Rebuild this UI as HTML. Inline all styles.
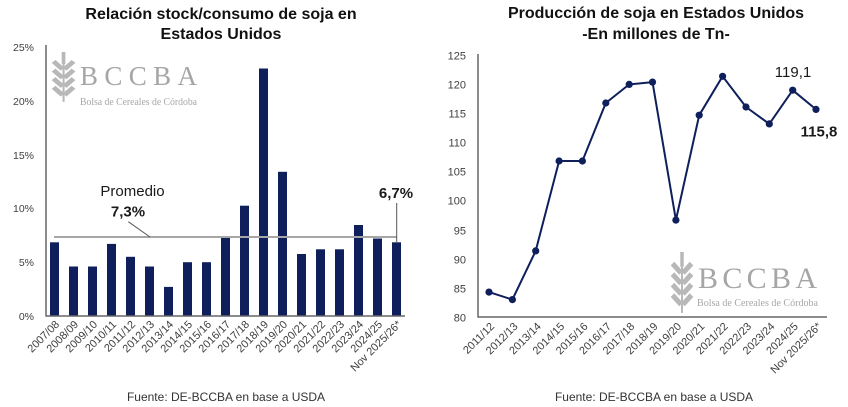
<!DOCTYPE html>
<html><head><meta charset="utf-8"><style>
html,body{margin:0;padding:0;background:#fff;}
svg{display:block;}
text{font-family:"Liberation Sans",sans-serif;}
</style></head><body>
<svg width="848" height="407" viewBox="0 0 848 407" xmlns="http://www.w3.org/2000/svg">
<defs>
<g id="wheat" stroke="#b8b8b8" stroke-width="5" fill="none" stroke-linecap="butt">
<line x1="11" y1="0" x2="11" y2="14" stroke-width="3.5"/>
<line x1="10" y1="20" x2="1.5" y2="11"/>
<line x1="12" y1="20" x2="20.5" y2="11"/>
<line x1="10" y1="30" x2="1.5" y2="21"/>
<line x1="12" y1="30" x2="20.5" y2="21"/>
<line x1="10" y1="40" x2="1.5" y2="31"/>
<line x1="12" y1="40" x2="20.5" y2="31"/>
<line x1="10" y1="50" x2="1.5" y2="41"/>
<line x1="12" y1="50" x2="20.5" y2="41"/>
<line x1="11" y1="14" x2="11" y2="58" stroke-width="2"/>
</g>
</defs>

<!-- LEFT CHART -->
<text x="221" y="19" text-anchor="middle" font-size="16" font-weight="bold" fill="#111">Relación stock/consumo de soja en</text>
<text x="221" y="39" text-anchor="middle" font-size="16" font-weight="bold" fill="#111">Estados Unidos</text>

<!-- logo left -->
<use href="#wheat" transform="translate(52,52) scale(1.05,0.86)"/>
<text x="80" y="85" font-size="27" fill="#a6a6a6" textLength="117" lengthAdjust="spacing" style="font-family:'Liberation Serif',serif">BCCBA</text>
<text x="80" y="105" font-size="10" fill="#a6a6a6" textLength="117" lengthAdjust="spacingAndGlyphs" style="font-family:'Liberation Serif',serif">Bolsa de Cereales de Córdoba</text>

<!-- y labels -->
<g font-size="10.5" fill="#404040" text-anchor="end">
<text x="34" y="51">25%</text>
<text x="34" y="105">20%</text>
<text x="34" y="159">15%</text>
<text x="34" y="212">10%</text>
<text x="34" y="266">5%</text>
<text x="34" y="320">0%</text>
</g>

<!-- bars -->
<g fill="#0e1f5b">
<rect x="50" y="242.3" width="9" height="73.7"/>
<rect x="69" y="266.5" width="9" height="49.5"/>
<rect x="88" y="266.5" width="9" height="49.5"/>
<rect x="107" y="243.9" width="9" height="72.1"/>
<rect x="126" y="256.8" width="9" height="59.2"/>
<rect x="145" y="266.5" width="9" height="49.5"/>
<rect x="164" y="286.9" width="9" height="29.1"/>
<rect x="183" y="262.2" width="9" height="53.8"/>
<rect x="202" y="262.2" width="9" height="53.8"/>
<rect x="221" y="237.5" width="9" height="78.5"/>
<rect x="240" y="205.7" width="9" height="110.3"/>
<rect x="259" y="68.5" width="9" height="247.5"/>
<rect x="278" y="171.8" width="9" height="144.2"/>
<rect x="297" y="254" width="9" height="62"/>
<rect x="316" y="249.3" width="9" height="66.7"/>
<rect x="335" y="249.3" width="9" height="66.7"/>
<rect x="354" y="225" width="9" height="91"/>
<rect x="373" y="238.5" width="9" height="77.5"/>
<rect x="392" y="242.3" width="9" height="73.7"/>
</g>

<!-- average line -->
<line x1="54" y1="237" x2="397" y2="237" stroke="#a6a6a6" stroke-width="2"/>
<line x1="128.3" y1="221.7" x2="150" y2="237" stroke="#555" stroke-width="1"/>
<line x1="396.7" y1="203" x2="396.7" y2="242" stroke="#555" stroke-width="1"/>

<!-- axes -->
<line x1="46" y1="45" x2="46" y2="316.5" stroke="#666" stroke-width="1.5"/>
<line x1="45.5" y1="316" x2="405" y2="316" stroke="#666" stroke-width="1.5"/>

<text x="132.5" y="196" text-anchor="middle" font-size="15" fill="#1a1a1a">Promedio</text>
<text x="128" y="216.5" text-anchor="middle" font-size="15" font-weight="bold" fill="#1a1a1a">7,3%</text>
<text x="396" y="198" text-anchor="middle" font-size="15" font-weight="bold" fill="#1a1a1a">6,7%</text>

<!-- x labels left -->
<g font-size="11" fill="#404040" text-anchor="end">
<text transform="translate(60,325) rotate(-45)">2007/08</text>
<text transform="translate(79,325) rotate(-45)">2008/09</text>
<text transform="translate(98,325) rotate(-45)">2009/10</text>
<text transform="translate(117,325) rotate(-45)">2010/11</text>
<text transform="translate(136,325) rotate(-45)">2011/12</text>
<text transform="translate(155,325) rotate(-45)">2012/13</text>
<text transform="translate(174,325) rotate(-45)">2013/14</text>
<text transform="translate(193,325) rotate(-45)">2014/15</text>
<text transform="translate(212,325) rotate(-45)">2015/16</text>
<text transform="translate(231,325) rotate(-45)">2016/17</text>
<text transform="translate(250,325) rotate(-45)">2017/18</text>
<text transform="translate(269,325) rotate(-45)">2018/19</text>
<text transform="translate(288,325) rotate(-45)">2019/20</text>
<text transform="translate(307,325) rotate(-45)">2020/21</text>
<text transform="translate(326,325) rotate(-45)">2021/22</text>
<text transform="translate(345,325) rotate(-45)">2022/23</text>
<text transform="translate(364,325) rotate(-45)">2023/24</text>
<text transform="translate(383,325) rotate(-45)">2024/25</text>
<text transform="translate(402,325) rotate(-45)">Nov 2025/26*</text>
</g>

<text x="226" y="401" text-anchor="middle" font-size="12" fill="#333">Fuente: DE-BCCBA en base a USDA</text>

<!-- RIGHT CHART -->
<text x="656" y="18" text-anchor="middle" font-size="16" font-weight="bold" fill="#111">Producción de soja en Estados Unidos</text>
<text x="656" y="39" text-anchor="middle" font-size="16" font-weight="bold" fill="#111">-En millones de Tn-</text>

<!-- logo right -->
<use href="#wheat" transform="translate(671,252) scale(1.0,1.05)"/>
<text x="698" y="288" font-size="30" fill="#a6a6a6" textLength="119" lengthAdjust="spacing" style="font-family:'Liberation Serif',serif">BCCBA</text>
<text x="697" y="306" font-size="10.5" fill="#a6a6a6" textLength="121" lengthAdjust="spacingAndGlyphs" style="font-family:'Liberation Serif',serif">Bolsa de Cereales de Córdoba</text>

<g font-size="11" fill="#404040" text-anchor="end">
<text x="466" y="59.5">125</text>
<text x="466" y="88.5">120</text>
<text x="466" y="117.5">115</text>
<text x="466" y="146.5">110</text>
<text x="466" y="175.5">105</text>
<text x="466" y="204.5">100</text>
<text x="466" y="234.5">95</text>
<text x="466" y="263.5">90</text>
<text x="466" y="292.5">85</text>
<text x="466" y="321.5">80</text>
</g>

<line x1="478" y1="54" x2="478" y2="317.5" stroke="#666" stroke-width="1.5"/>
<line x1="477.5" y1="317" x2="827" y2="317" stroke="#666" stroke-width="1.5"/>

<polyline fill="none" stroke="#0e1f5b" stroke-width="2" stroke-linejoin="round" points="489,292.1 512.4,299.6 535.7,250.9 559.1,161 582.4,161 605.8,103 629.2,84.4 652.5,82.1 675.9,220.1 699.2,115.2 722.6,76.3 746,107 769.3,123.9 792.7,90.2 816,109.4"/>
<g fill="#0e1f5b">
<circle cx="489" cy="292.1" r="3.6"/>
<circle cx="512.4" cy="299.6" r="3.6"/>
<circle cx="535.7" cy="250.9" r="3.6"/>
<circle cx="559.1" cy="161" r="3.6"/>
<circle cx="582.4" cy="161" r="3.6"/>
<circle cx="605.8" cy="103" r="3.6"/>
<circle cx="629.2" cy="84.4" r="3.6"/>
<circle cx="652.5" cy="82.1" r="3.6"/>
<circle cx="675.9" cy="220.1" r="3.6"/>
<circle cx="699.2" cy="115.2" r="3.6"/>
<circle cx="722.6" cy="76.3" r="3.6"/>
<circle cx="746" cy="107" r="3.6"/>
<circle cx="769.3" cy="123.9" r="3.6"/>
<circle cx="792.7" cy="90.2" r="3.6"/>
<circle cx="816" cy="109.4" r="3.6"/>
</g>

<text x="793" y="77" text-anchor="middle" font-size="15" fill="#1a1a1a">119,1</text>
<text x="819" y="136.5" text-anchor="middle" font-size="15" font-weight="bold" fill="#1a1a1a">115,8</text>

<g font-size="11" fill="#404040" text-anchor="end">
<text transform="translate(495,327) rotate(-45)">2011/12</text>
<text transform="translate(518.4,327) rotate(-45)">2012/13</text>
<text transform="translate(541.7,327) rotate(-45)">2013/14</text>
<text transform="translate(565.1,327) rotate(-45)">2014/15</text>
<text transform="translate(588.4,327) rotate(-45)">2015/16</text>
<text transform="translate(611.8,327) rotate(-45)">2016/17</text>
<text transform="translate(635.2,327) rotate(-45)">2017/18</text>
<text transform="translate(658.5,327) rotate(-45)">2018/19</text>
<text transform="translate(681.9,327) rotate(-45)">2019/20</text>
<text transform="translate(705.2,327) rotate(-45)">2020/21</text>
<text transform="translate(728.6,327) rotate(-45)">2021/22</text>
<text transform="translate(752,327) rotate(-45)">2022/23</text>
<text transform="translate(775.3,327) rotate(-45)">2023/24</text>
<text transform="translate(798.7,327) rotate(-45)">2024/25</text>
<text transform="translate(822,327) rotate(-45)">Nov 2025/26*</text>
</g>

<text x="654" y="401" text-anchor="middle" font-size="12" fill="#333">Fuente: DE-BCCBA en base a USDA</text>
</svg>
</body></html>
